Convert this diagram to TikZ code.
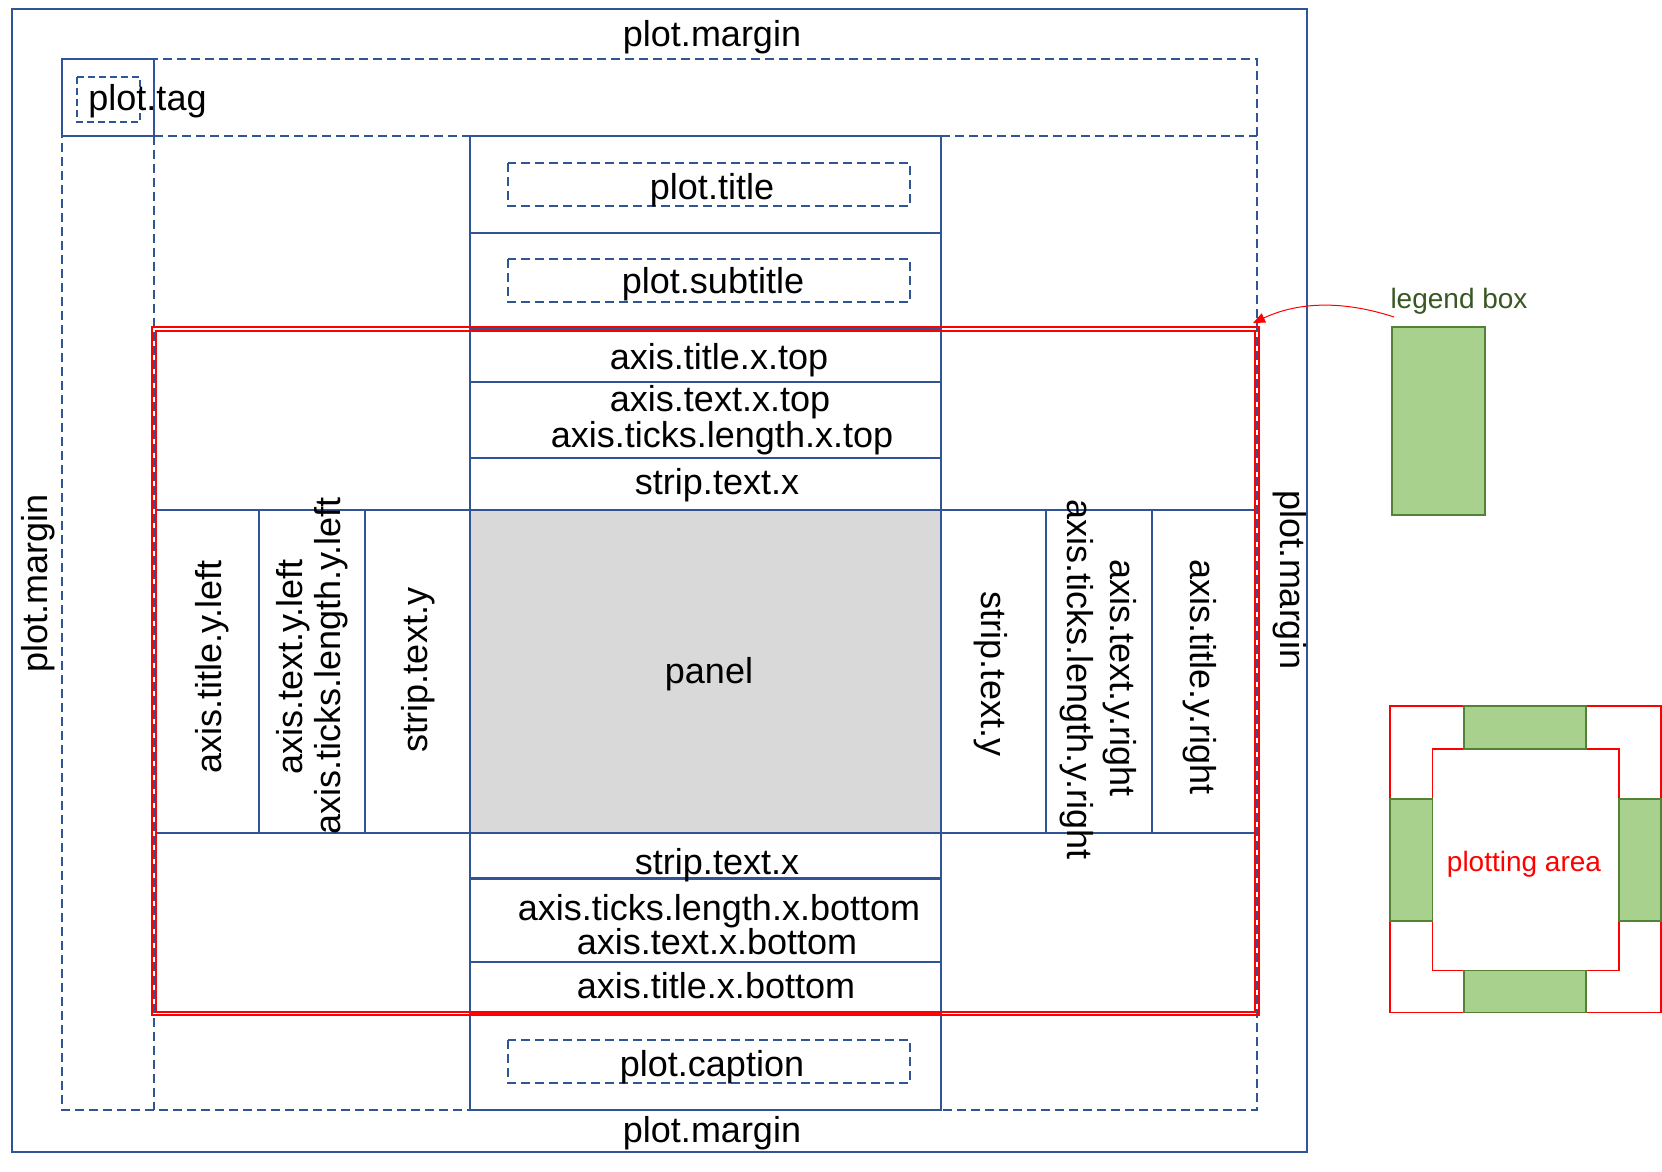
\documentclass[tikz,border=0pt]{standalone}
\usepackage{fontspec}
\setmainfont{Liberation Sans}
\usetikzlibrary{arrows.meta}
\definecolor{bl}{RGB}{47,85,151}
\definecolor{grfill}{RGB}{169,209,142}
\definecolor{grline}{RGB}{83,129,53}
\definecolor{grtext}{RGB}{56,87,35}
\definecolor{pan}{RGB}{217,217,217}
\begin{document}
\begin{tikzpicture}[x=1pt,y=-1pt,
  bline/.style={draw=bl,line width=1.5pt},
  dline/.style={draw=bl,line width=1.5pt,dash pattern=on 9pt off 5pt},
  rline/.style={draw=red,line width=1.8pt},
  lbl/.style={font=\fontsize{36}{38}\selectfont,inner sep=0pt,anchor=base},
  lbll/.style={lbl,rotate=90},
  lblr/.style={lbl,rotate=-90},
  lgtxt/.style={font=\fontsize{28}{30}\selectfont,inner sep=0pt,anchor=base},
  grbox/.style={fill=grfill,draw=grline,line width=1.5pt},
]
\useasboundingbox (0,0) rectangle (1662,1172);
\fill[white] (0,0) rectangle (1662,1172);
% panel
\fill[pan] (470,510) rectangle (941,833);
% outer frames
\draw[bline] (12,9) rectangle (1307,1152);
\draw[dline] (62,59) rectangle (1257,1110);
\draw[dline] (154,136) -- (470,136);
\draw[dline] (941,136) -- (1257,136);
\draw[dline] (154,136) -- (154,1110);
\draw[bline] (62,59) rectangle (154,136);
\draw[draw=bl,line width=1.5pt,dash pattern=on 7pt off 4pt] (77,77) rectangle (140,122);
% centre column
\draw[bline] (470,136) rectangle (941,1110);
\foreach \y in {233,329,458,962,1013.5} \draw[bline] (470,\y) -- (941,\y);
\draw[bline,line width=2.2pt] (470,382) -- (941,382);
\draw[bline,line width=3pt] (470,878) -- (941,878);
\draw[bline] (156,510) -- (1255,510);
\draw[bline] (156,833) -- (1255,833);
\foreach \x in {259,365,1046,1152} \draw[bline] (\x,510) -- (\x,833);
\draw[dline] (508,163) rectangle (910,206);
\draw[dline] (508,259) rectangle (910,302);
\draw[dline] (508,1040) rectangle (910,1083);
% red plotting area
\draw[rline] (152.3,327.3) rectangle (1259,1015.3);
\draw[rline] (155.7,331) rectangle (1255,1012);
% legend box
\node[grbox,minimum width=93pt,minimum height=188pt,inner sep=0pt,anchor=north west] (legbox) at (1391,326) {};
\coordinate (arrS) at (1394,317);
\coordinate (arrT) at (1253,323);
\draw[red,line width=1pt,-{Triangle[length=12pt,width=10pt]}] (arrS) .. controls (1345,301) and (1300,301) .. (arrT);
% plotting area sketch
\draw[red,line width=1.5pt] (1390,706) rectangle (1661,1012.7);
\draw[red,line width=1.5pt] (1432.3,749) rectangle (1619,970.7);
\draw[grbox] (1464,706) rectangle (1586,749);
\draw[grbox] (1464,970.7) rectangle (1586,1012.7);
\draw[grbox] (1390,799) rectangle (1432.3,921);
\draw[grbox] (1619,799) rectangle (1661,921);
% labels
\node[lbl] (mtop) at (712,47) {plot.margin};
\node[lbl] (mbot) at (712,1142) {plot.margin};
\node[lbll] (mleft) at (47,583) {plot.margin};
\node[lblr] (mright) at (1280,580) {plot.margin};
\node[lbl] (tag) at (147.5,110) {plot.tag};
\node[lbl] (title) at (712,199) {plot.title};
\node[lbl] (subtitle) at (713,293) {plot.subtitle};
\node[lbl] (atxt) at (719,369) {axis.title.x.top};
\node[lbl] (axtxt) at (720,411) {axis.text.x.top};
\node[lbl] (atlxt) at (722,447) {axis.ticks.length.x.top};
\node[lbl] (stxt) at (717,494) {strip.text.x};
\node[lbl] (panel) at (709,683) {panel};
\node[lbl] (stxb) at (717,874) {strip.text.x};
\node[lbl] (atlxb) at (719,920.5) {axis.ticks.length.x.bottom};
\node[lbl] (axtxb) at (717,954) {axis.text.x.bottom};
\node[lbl] (atxb) at (716,998) {axis.title.x.bottom};
\node[lbl] (caption) at (712,1076) {plot.caption};
\node[lbll] (atyl) at (221,667) {axis.title.y.left};
\node[lbll] (axtyl) at (302,667) {axis.text.y.left};
\node[lbll] (atlyl) at (340,666) {axis.ticks.length.y.left};
\node[lbll] (styl) at (427.5,670) {strip.text.y};
\node[lblr] (styr) at (981,674) {strip.text.y};
\node[lblr] (atlyr) at (1067.5,679.5) {axis.ticks.length.y.right};
\node[lblr] (axtyr) at (1110.5,678) {axis.text.y.right};
\node[lblr] (atyr) at (1190.5,677) {axis.title.y.right};
\node[lgtxt,text=grtext] (legtxt) at (1459,308) {legend box};
\node[lgtxt,text=red] (patxt) at (1524,871) {plotting area};
\end{tikzpicture}
\end{document}
